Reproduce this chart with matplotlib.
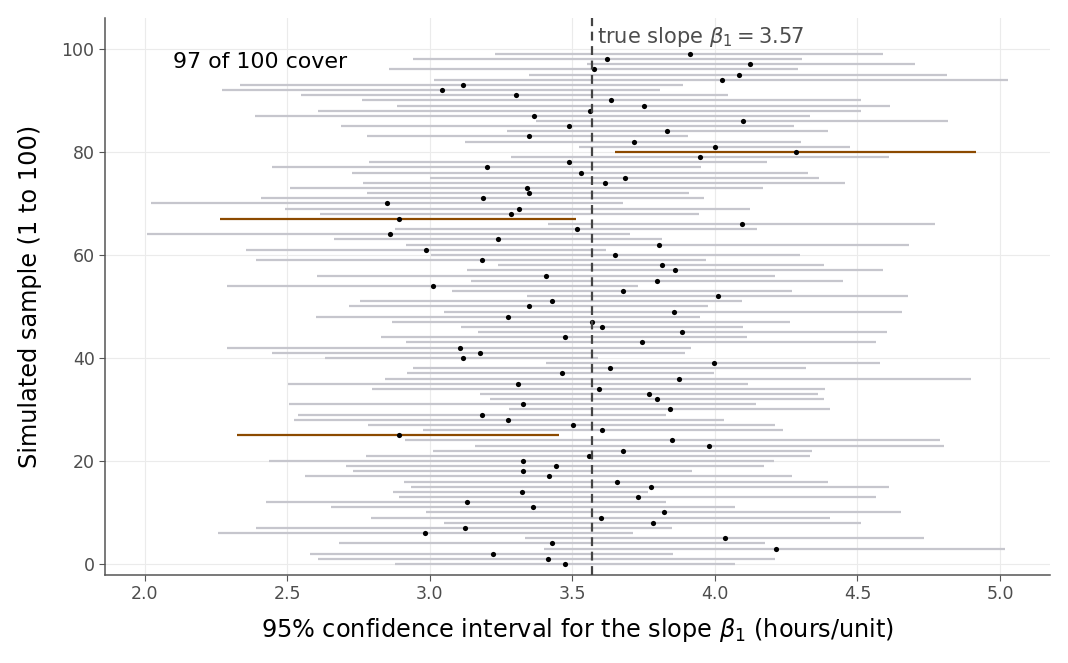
import matplotlib
matplotlib.use('Agg')
import matplotlib.pyplot as plt
import numpy as np

# ------------- values (sample 0..99) -------------
true_slope = 3.57
sample = np.arange(100)
est = [3.473, 3.413, 3.220, 4.214, 3.430, 4.035, 2.984, 3.122, 3.784, 3.599,
       3.821, 3.363, 3.130, 3.729, 3.322, 3.774, 3.656, 3.418, 3.328, 3.442,
       3.326, 3.558, 3.676, 3.978, 3.851, 2.890, 3.605, 3.501, 3.275, 3.181,
       3.843, 3.326, 3.796, 3.770, 3.593, 3.310, 3.874, 3.462, 3.631, 3.996,
       3.116, 3.175, 3.104, 3.743, 3.473, 3.886, 3.605, 3.568, 3.275, 3.855,
       3.346, 3.428, 4.010, 3.676, 3.010, 3.796, 3.409, 3.859, 3.813, 3.181,
       3.650, 2.988, 3.802, 3.238, 2.859, 3.515, 4.094, 2.890, 3.283, 3.312,
       2.849, 3.185, 3.346, 3.342, 3.615, 3.686, 3.530, 3.200, 3.487, 3.949,
       4.283, 4.000, 3.715, 3.346, 3.831, 3.487, 4.098, 3.365, 3.562, 3.750,
       3.637, 3.301, 3.041, 3.116, 4.024, 4.084, 3.574, 4.124, 3.623, 3.912]
lo = [2.876, 2.609, 2.580, 3.401, 2.682, 3.332, 2.257, 2.391, 3.051, 2.794,
      2.988, 2.654, 2.426, 2.890, 2.872, 2.935, 2.910, 2.562, 2.731, 2.707,
      2.436, 2.776, 3.012, 3.157, 2.914, 2.324, 2.974, 2.784, 2.523, 2.536,
      3.279, 2.507, 3.212, 3.177, 2.798, 2.501, 2.843, 2.921, 2.941, 3.409,
      2.633, 2.446, 2.289, 2.916, 2.829, 3.167, 3.110, 2.868, 2.601, 3.051,
      2.717, 2.756, 3.342, 3.079, 2.289, 3.143, 2.605, 3.130, 3.240, 2.391,
      3.004, 2.356, 2.916, 2.662, 2.008, 2.878, 3.413, 2.265, 2.615, 2.493,
      2.022, 2.407, 2.780, 2.509, 2.766, 3.002, 2.727, 2.446, 2.788, 3.283,
      3.648, 3.523, 3.124, 2.780, 3.269, 2.688, 3.373, 2.387, 2.609, 2.886,
      2.760, 2.548, 2.271, 2.334, 3.016, 3.346, 2.855, 3.552, 2.941, 3.230]
hi = [4.069, 4.212, 3.853, 5.018, 4.177, 4.733, 3.713, 3.849, 4.513, 4.405,
      4.652, 4.069, 3.829, 4.566, 3.766, 4.609, 4.397, 4.269, 3.921, 4.173,
      4.208, 4.332, 4.342, 4.802, 4.788, 3.454, 4.240, 4.212, 4.031, 3.829,
      4.405, 4.145, 4.381, 4.363, 4.385, 4.116, 4.900, 3.998, 4.318, 4.580,
      3.591, 3.896, 3.916, 4.566, 4.114, 4.605, 4.100, 4.265, 3.949, 4.658,
      3.974, 4.094, 4.676, 4.269, 3.731, 4.448, 4.212, 4.589, 4.381, 3.967,
      4.297, 3.619, 4.682, 3.813, 3.703, 4.149, 4.772, 3.513, 3.945, 4.124,
      3.676, 3.963, 3.910, 4.169, 4.458, 4.365, 4.326, 3.951, 4.183, 4.611,
      4.916, 4.473, 4.303, 3.904, 4.395, 4.279, 4.819, 4.334, 4.511, 4.615,
      4.513, 4.047, 3.809, 3.888, 5.029, 4.815, 4.291, 4.701, 4.305, 4.589]

lo = np.array(lo)
hi = np.array(hi)
miss = (lo > true_slope) | (hi < true_slope)
n_cover = int((~miss).sum())

fig = plt.figure(figsize=(10.68, 6.63), dpi=100)
ax = fig.add_axes([0.0983, 0.1327, 0.8847, 0.8402])

# grid
ax.set_axisbelow(True)
ax.grid(True, color='#ebebeb', linewidth=0.8)

# intervals
ax.hlines(sample[~miss], lo[~miss], hi[~miss], color='#c6c6cd', linewidth=1.6, zorder=2)
ax.hlines(sample[miss], lo[miss], hi[miss], color='#8c4a00', linewidth=1.6, zorder=3)
ax.scatter(est, sample, s=14, color='black', zorder=4, linewidths=0)

# true slope
ax.axvline(true_slope, color='#444444', linestyle=(0, (4, 2.5)), linewidth=1.6, zorder=5)
ax.text(true_slope + 0.015, 102.4, r'true slope $\beta_1 = 3.57$', color='#4d4d4d',
        fontsize=15.1, va='center', ha='left')
ax.text(2.1, 97.5, f'{n_cover} of 100 cover', color='black', fontsize=15.9,
        va='center', ha='left')

ax.set_xlim(1.86, 5.175)
ax.set_ylim(-2.14, 106.0)
ax.set_xticks([2.0, 2.5, 3.0, 3.5, 4.0, 4.5, 5.0])
ax.set_xticklabels(['2.0', '2.5', '3.0', '3.5', '4.0', '4.5', '5.0'])
ax.set_yticks([0, 20, 40, 60, 80, 100])

for s in ['top', 'right']:
    ax.spines[s].set_visible(False)
for s in ['left', 'bottom']:
    ax.spines[s].set_color('#555555')
    ax.spines[s].set_linewidth(1.1)
ax.tick_params(colors='#555555', labelcolor='#4d4d4d', labelsize=12.5, length=4)

ax.set_xlabel(r'95% confidence interval for the slope $\beta_1$ (hours/unit)',
              fontsize=17.3, labelpad=9)
ax.set_ylabel('Simulated sample (1 to 100)', fontsize=17.3, labelpad=14)

fig.savefig('out.png', dpi=100)
